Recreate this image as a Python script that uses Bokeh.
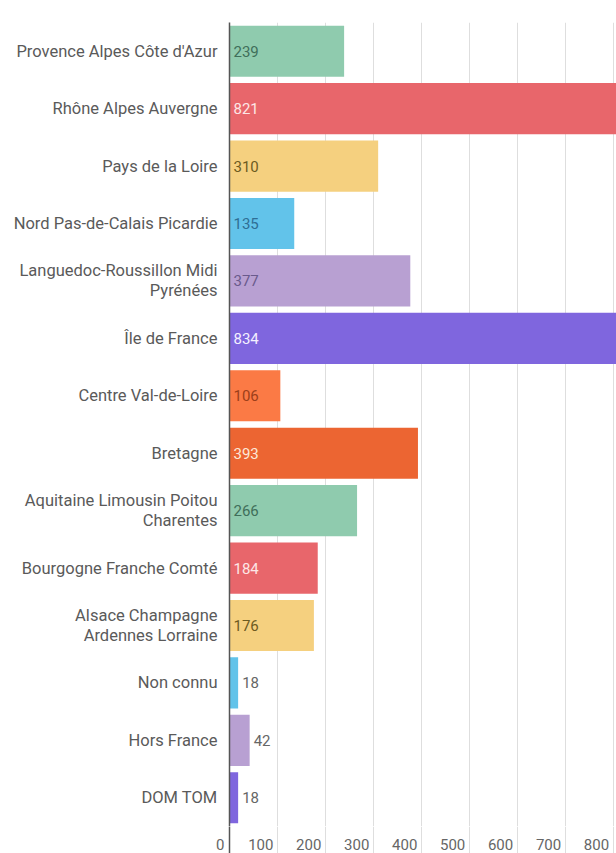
from bokeh.plotting import figure
from bokeh.models import ColumnDataSource, Range1d, FactorRange, FixedTicker
from bokeh.layouts import column
from bokeh.core.properties import value
from bokeh.embed import file_html
from bokeh.resources import INLINE

categories = [
    "Provence Alpes Côte d'Azur",
    "Rhône Alpes Auvergne",
    "Pays de la Loire",
    "Nord Pas-de-Calais Picardie",
    "Languedoc-Roussillon Midi\nPyrénées",
    "Île de France",
    "Centre Val-de-Loire",
    "Bretagne",
    "Aquitaine Limousin Poitou\nCharentes",
    "Bourgogne Franche Comté",
    "Alsace Champagne\nArdennes Lorraine",
    "Non connu",
    "Hors France",
    "DOM TOM",
]
values = [239, 821, 310, 135, 377, 834, 106, 393, 266, 184, 176, 18, 42, 18]
bar_colors = ["#8fcbae", "#e8666b", "#f5d07f", "#62c3ea", "#b8a0d2", "#7f66de", "#fb7a45",
              "#ec6532", "#8fcbae", "#e8666b", "#f5d07f", "#62c3ea", "#b8a0d2", "#7f66de"]
label_colors = ["#3f6f5a", "#fde6e6", "#6d5b1f", "#2f6e95", "#6a5a8c", "#f4f0ff", "#9b3f1a",
                "#fde8d8", "#3f6f5a", "#fde6e6", "#6d5b1f", "#666666", "#666666", "#666666"]
x_ticks = [0, 100, 200, 300, 400, 500, 600, 700, 800]
x_tick_labels = ["0", "100", "200", "300", "400", "500", "600", "700", "800"]

FONT = "Roboto"
X_END = 807
W = 616
LEFT = 229
H_A = 826
H_B = 27
TICK_ROW = 0.32

inside = [v >= 60 for v in values]
src = ColumnDataSource(dict(
    cat=categories,
    val=values,
    color=bar_colors,
    lcolor=label_colors,
    lx=[0 if ins else v for ins, v in zip(inside, values)],
    txt=[str(v) for v in values],
))

p = figure(width=W, height=H_A, output_backend="svg", toolbar_location=None,
           x_range=Range1d(0, X_END),
           y_range=FactorRange(factors=list(reversed(categories)), range_padding=0),
           min_border_left=LEFT, min_border_right=0, min_border_top=22, min_border_bottom=0)
p.hbar(y="cat", right="val", left=0, height=0.89, color="color", line_color=None, source=src)
p.text(x="lx", y="cat", text="txt", source=src, x_offset=4, text_align="left",
       text_baseline="middle", text_color="lcolor", text_font=value(FONT), text_font_size="15px")

p.xaxis.visible = False
p.xgrid.ticker = FixedTicker(ticks=x_ticks[1:])
p.xgrid.grid_line_color = "#dedede"
p.ygrid.grid_line_color = None
p.outline_line_color = None
p.yaxis.axis_line_color = "#555555"
p.yaxis.axis_line_width = 1.5
p.yaxis.major_tick_line_color = None
p.yaxis.major_tick_out = 0
p.yaxis.major_tick_in = 0
p.yaxis.minor_tick_line_color = None
p.yaxis.major_label_text_font = FONT
p.yaxis.major_label_text_font_size = "16.5px"
p.yaxis.major_label_text_color = "#5a5a5a"
p.yaxis.major_label_text_line_height = 1.05
p.yaxis.major_label_standoff = 12

# bottom strip with the value axis labels
tsrc = ColumnDataSource(dict(x=x_ticks[1:], t=x_tick_labels[1:], y=[TICK_ROW] * (len(x_ticks) - 1)))
b = figure(width=W, height=H_B, output_backend="svg", toolbar_location=None,
           x_range=p.x_range, y_range=Range1d(0, 1),
           x_axis_location=None,
           min_border_left=LEFT, min_border_right=0, min_border_top=0, min_border_bottom=0)
b.xgrid.ticker = FixedTicker(ticks=x_ticks[1:])
b.xgrid.grid_line_color = "#dedede"
b.ygrid.grid_line_color = None
b.outline_line_color = None
b.yaxis.ticker = FixedTicker(ticks=[TICK_ROW])
b.yaxis.major_label_overrides = {TICK_ROW: x_tick_labels[0]}
b.yaxis.axis_line_color = "#555555"
b.yaxis.axis_line_width = 1.5
b.yaxis.major_tick_line_color = None
b.yaxis.major_tick_out = 0
b.yaxis.major_tick_in = 0
b.yaxis.minor_tick_line_color = None
b.yaxis.major_label_text_font = FONT
b.yaxis.major_label_text_font_size = "15px"
b.yaxis.major_label_text_color = "#666666"
b.yaxis.major_label_standoff = 5
b.text(x="x", y="y", text="t", source=tsrc, x_offset=-4, text_align="right",
       text_baseline="middle", text_color="#666666", text_font=value(FONT), text_font_size="15px")

layout = column(p, b, spacing=0)
open("out.html", "w").write(file_html(layout, INLINE))
